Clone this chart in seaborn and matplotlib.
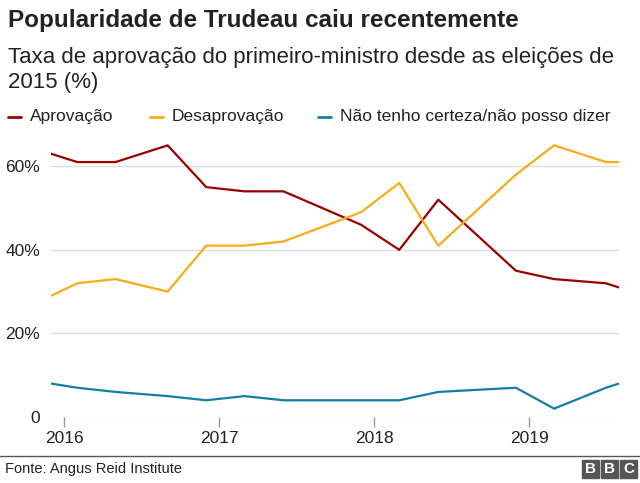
import pandas as pd
import matplotlib
matplotlib.use("Agg")
import matplotlib.pyplot as plt
from matplotlib.patches import Rectangle
from matplotlib.lines import Line2D
import seaborn as sns

# data
datas = ["2015-12-01", "2016-02-01", "2016-05-01", "2016-09-01", "2016-12-01",
         "2017-03-01", "2017-06-01", "2017-12-01", "2018-03-01", "2018-06-01",
         "2018-12-01", "2019-03-01", "2019-07-01", "2019-08-01"]
aprovacao = [63, 61, 61, 65, 55, 54, 54, 46, 40, 52, 35, 33, 32, 31]
desaprovacao = [29, 32, 33, 30, 41, 41, 42, 49, 56, 41, 58, 65, 61, 61]
nao_sei = [8, 7, 6, 5, 4, 5, 4, 4, 4, 6, 7, 2, 7, 8]
series = ["Aprovação", "Desaprovação", "Não tenho certeza/não posso dizer"]
cores = ["#990000", "#FAAB18", "#1380A1"]
anos = ["2016", "2017", "2018", "2019"]
yticks = [0, 20, 40, 60]
ylabels = ["0", "20%", "40%", "60%"]

sns.set_style("white")
plt.rcParams["font.family"] = ["Liberation Sans", "DejaVu Sans"]

df = pd.DataFrame({
    "data": pd.to_datetime(datas * 3),
    "valor": aprovacao + desaprovacao + nao_sei,
    "serie": [series[0]] * len(datas) + [series[1]] * len(datas) + [series[2]] * len(datas),
})

fig = plt.figure(figsize=(6.4, 4.83), dpi=100)
ax = fig.add_axes([51 / 640, 66 / 483, 568 / 640, 280 / 483])

sns.lineplot(data=df, x="data", y="valor", hue="serie", palette=cores,
             hue_order=series, linewidth=1.6, legend=False, ax=ax)

ax.set_xlim(pd.Timestamp(datas[0]), pd.Timestamp(datas[-1]))
ax.set_ylim(0, 67)
ax.set_yticks(yticks)
ax.set_yticklabels(ylabels)
ax.set_xticks([pd.Timestamp(a + "-01-01") for a in anos])
ax.set_xticklabels(anos)
ax.set_xlabel("")
ax.set_ylabel("")
for s in ax.spines.values():
    s.set_visible(False)
ax.grid(axis="y", color="#dddddd", linewidth=1)
ax.grid(axis="x", visible=False)
ax.tick_params(axis="y", left=False, length=0, pad=8, labelsize=12.5,
               labelcolor="#222222")
ax.tick_params(axis="x", bottom=True, length=7, width=1, color="#999999", pad=3,
               labelsize=12.5, labelcolor="#222222", direction="out")

# titles
fig.text(8 / 640, 1 - 20 / 483, "Popularidade de Trudeau caiu recentemente",
         fontsize=17.5, fontweight="bold", color="#222222", va="center")
fig.text(8 / 640, 1 - 70 / 483,
         "Taxa de aprovação do primeiro-ministro desde as eleições de\n2015 (%)",
         fontsize=16, color="#222222", va="center", linespacing=1.3)

# legend
for (x0, tx), nome, cor in zip([(8, 30), (150, 172), (318, 340)], series, cores):
    y = 1 - 117 / 483
    fig.add_artist(Line2D([x0 / 640, (x0 + 13) / 640], [y, y], color=cor, lw=2))
    fig.text(tx / 640, y, nome, fontsize=12.5, color="#222222", va="center")

# footer
fig.add_artist(Line2D([0, 1], [1 - 456 / 483] * 2, color="#555555", lw=1))
fig.text(5 / 640, 1 - 469 / 483, "Fonte: Angus Reid Institute",
         fontsize=10.5, color="#222222", va="center")
for i, letra in enumerate("BBC"):
    x0 = (582 + i * 19) / 640
    fig.add_artist(Rectangle((x0, 1 - 478 / 483), 17 / 640, 18 / 483,
                             color="#555555", transform=fig.transFigure))
    fig.text(x0 + 8.5 / 640, 1 - 469 / 483, letra, fontsize=11,
             fontweight="bold", color="white", ha="center", va="center")

fig.savefig("out.png", dpi=100, facecolor="white")
